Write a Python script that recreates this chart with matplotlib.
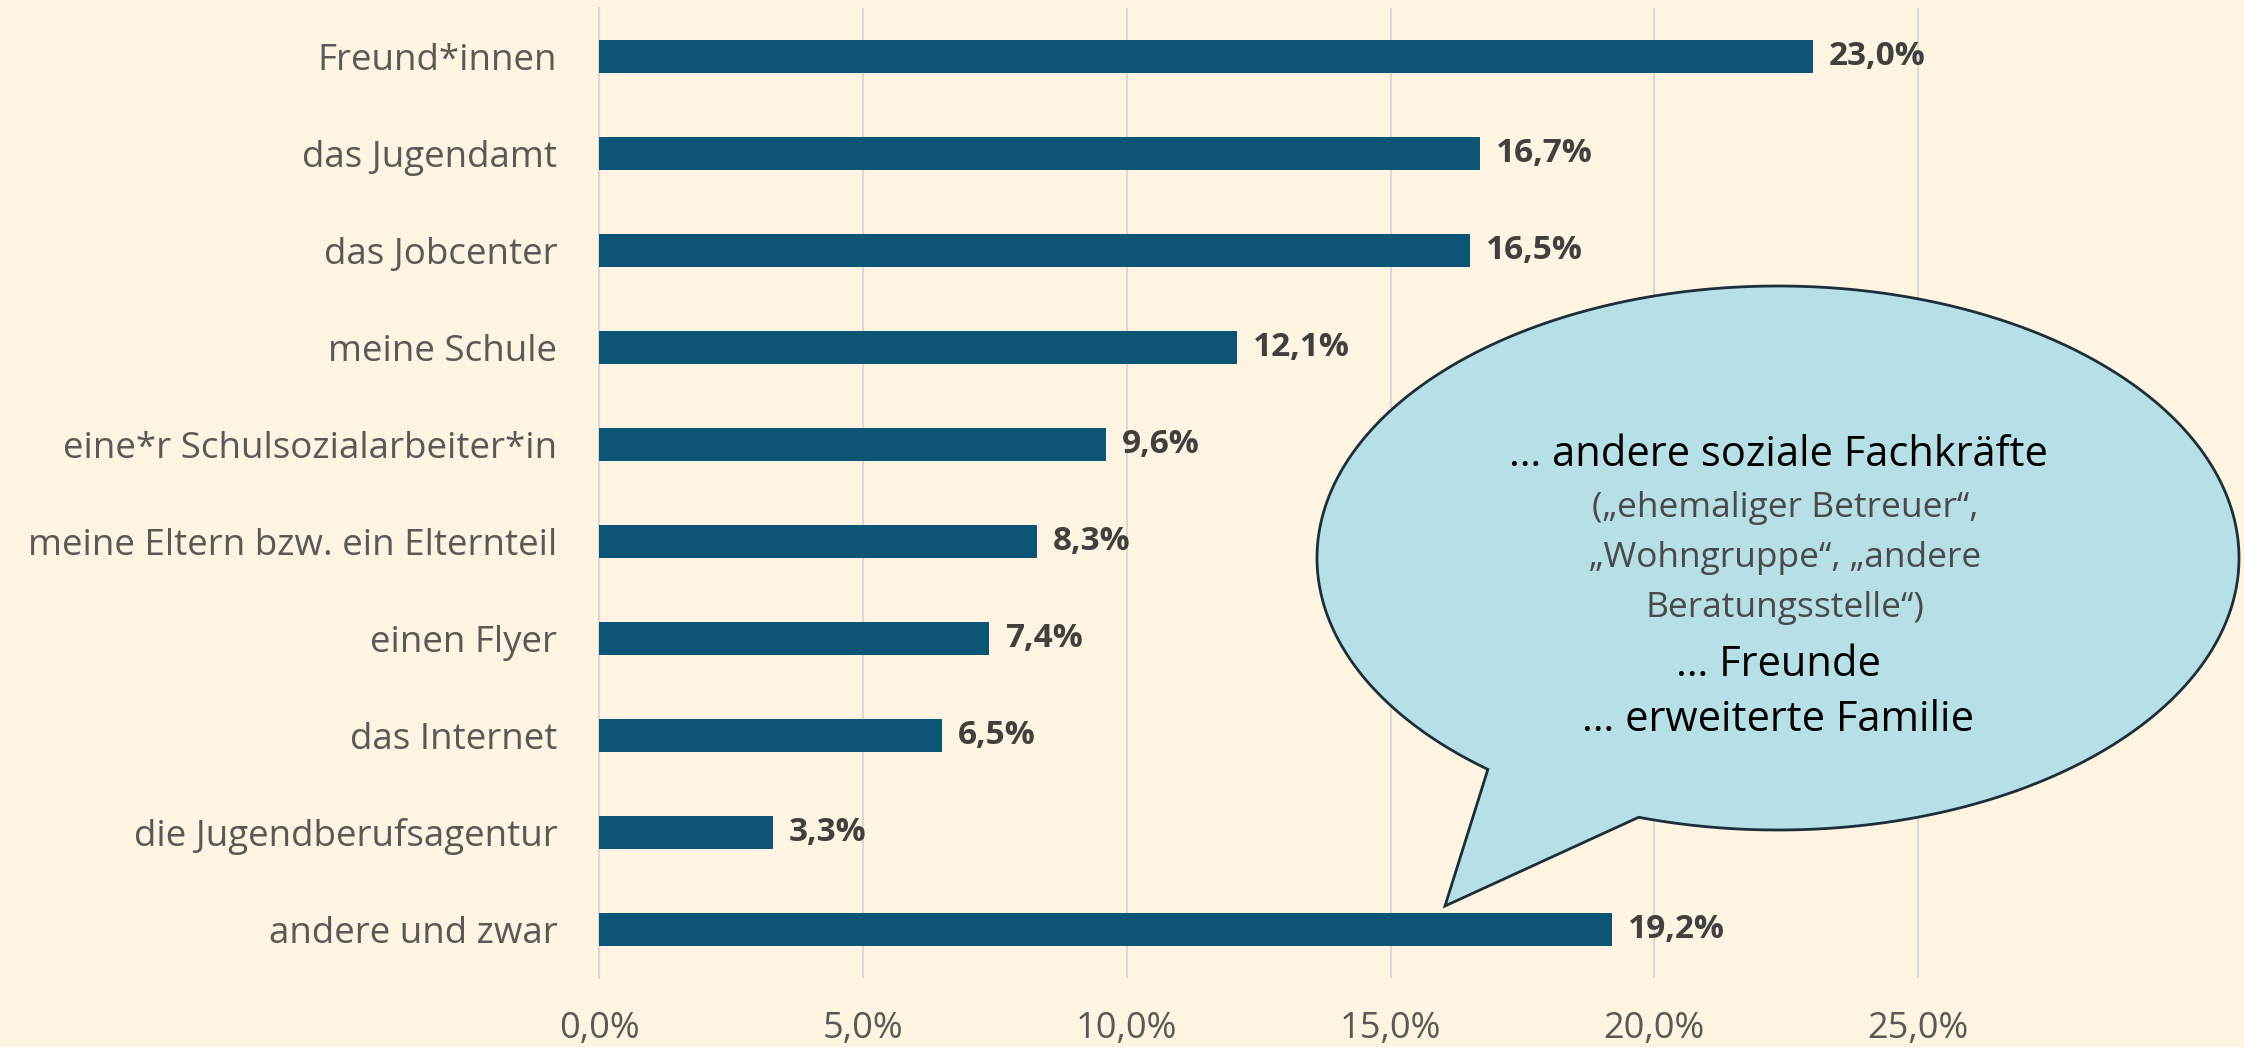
import numpy as np
import matplotlib
matplotlib.use("Agg")
import matplotlib.pyplot as plt
from matplotlib.patches import Polygon

categories = ["Freund*innen", "das Jugendamt", "das Jobcenter", "meine Schule",
              "eine*r Schulsozialarbeiter*in", "meine Eltern bzw. ein Elternteil",
              "einen Flyer", "das Internet", "die Jugendberufsagentur", "andere und zwar"]
values = [23.0, 16.7, 16.5, 12.1, 9.6, 8.3, 7.4, 6.5, 3.3, 19.2]
xticks = [0, 5, 10, 15, 20, 25]
xtick_labels = ["0,0%", "5,0%", "10,0%", "15,0%", "20,0%", "25,0%"]
callout_main = "… andere soziale Fachkräfte"
callout_sub = ["(„ehemaliger Betreuer“,", "„Wohngruppe“, „andere", "Beratungsstelle“)"]
callout_tail = ["… Freunde", "… erweiterte Familie"]

FONT = ["Open Sans", "DejaVu Sans"]
plt.rcParams["font.family"] = FONT

BG = "#FEF4E1"
BAR = "#0D5574"
W, H = 2244, 1047
fig = plt.figure(figsize=(W / 100, H / 100), dpi=100, facecolor=BG)

left_px, right_px, top_px, bottom_px = 599, 2182, 8, 978
ax = fig.add_axes([left_px / W, 1 - bottom_px / H, (right_px - left_px) / W, (bottom_px - top_px) / H])
ax.set_facecolor(BG)

y = np.arange(len(categories))
ax.barh(y, values, height=0.35, color=BAR, zorder=3)
ax.set_ylim(len(categories) - 0.5, -0.5)
ax.set_xlim(0, 30)
ax.set_yticks(y)
ax.set_yticklabels(categories, fontsize=26.5, color="#595959")
ax.set_xticks(xticks)
ax.set_xticklabels(xtick_labels, fontsize=26, color="#595959")
ax.tick_params(axis="y", length=0, pad=30)
ax.tick_params(axis="x", length=0, pad=24)
ax.grid(axis="x", color="#D9D9D9", linewidth=1.5, zorder=0)
for s in ["top", "right", "bottom"]:
    ax.spines[s].set_visible(False)
ax.spines["left"].set_color("#D9D9D9")
ax.spines["left"].set_linewidth(1.5)

for yi, v in zip(y, values):
    ax.text(v + 0.3, yi, f"{v:.1f}%".replace(".", ","), va="center", ha="left",
            fontsize=24, fontweight="bold", color="#404040", zorder=4)

# speech bubble (pixel coordinates -> figure fraction)
cx, cy, a, b = 1778, 558, 461, 272
t1 = np.deg2rad(-107.6)
t2 = np.deg2rad(231.0)
ts = np.linspace(t1, t2, 400)
xs = cx + a * np.cos(ts)
ys = (H - cy) + b * np.sin(ts)
tip = (1445, H - 906)
pts = np.column_stack([np.append(xs, tip[0]), np.append(ys, tip[1])])
pts[:, 0] /= W
pts[:, 1] /= H
bubble = Polygon(pts, closed=True, facecolor="#B7E0E6", edgecolor="#1B2F3A",
                 linewidth=2, transform=fig.transFigure, zorder=10)
fig.add_artist(bubble)

tx = 1778 / W
fig.text(tx, 1 - 455 / H, callout_main, ha="center", va="center", fontsize=30,
         color="black", zorder=11)
for i, line in enumerate(callout_sub):
    fig.text(1785 / W, 1 - (508 + 50 * i) / H, line, ha="center", va="center", fontsize=25.5,
             color="#4A4A4A", zorder=11)
for i, line in enumerate(callout_tail):
    fig.text(tx, 1 - (665 + 55 * i) / H, line, ha="center", va="center", fontsize=30,
             color="black", zorder=11)

fig.savefig("out.png", dpi=100, facecolor=BG)
